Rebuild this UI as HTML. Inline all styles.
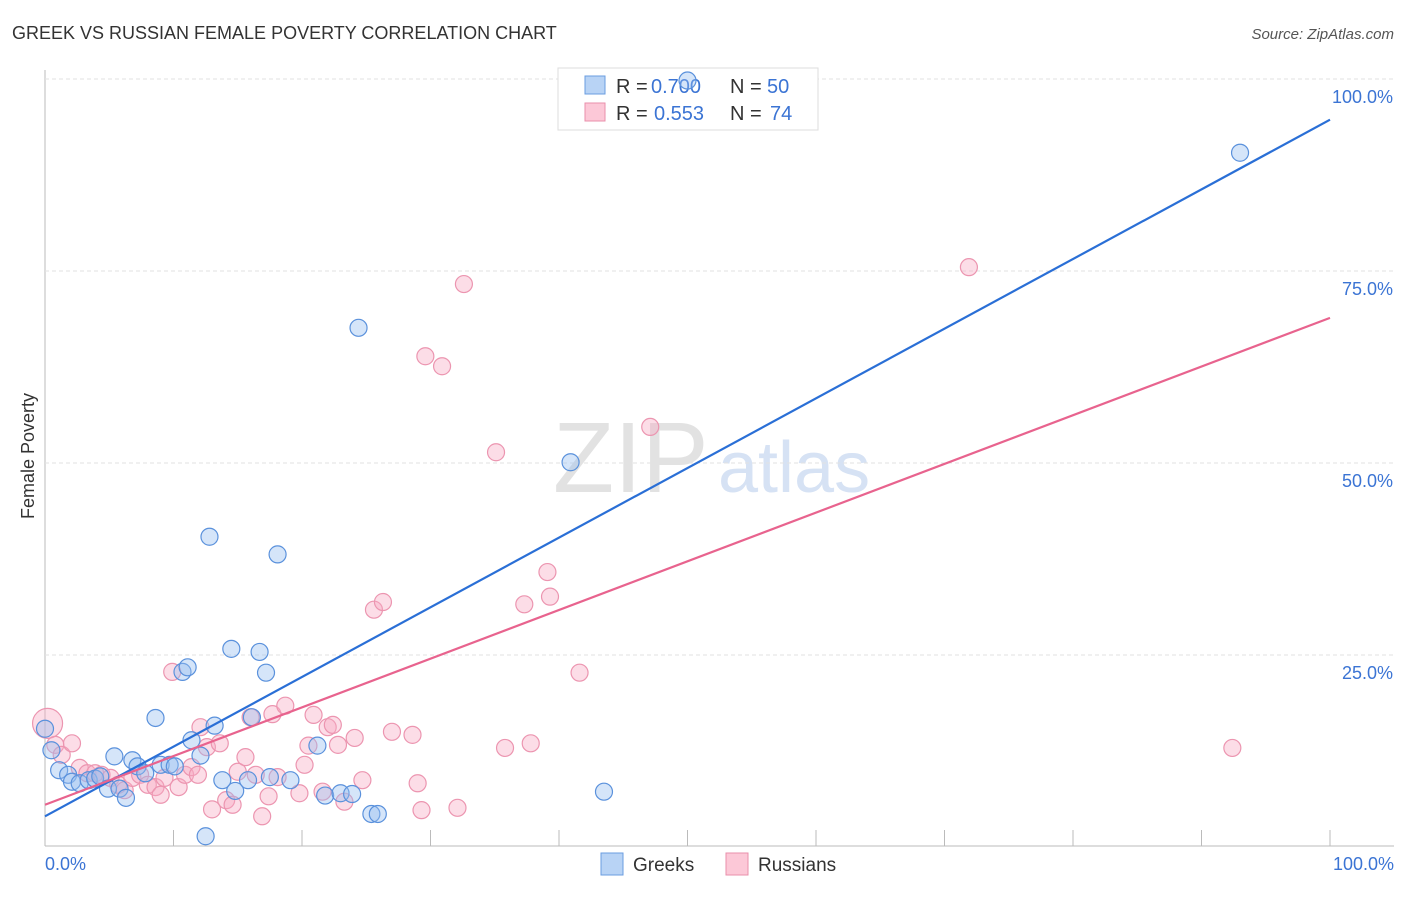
<!DOCTYPE html>
<html><head><meta charset="utf-8"><style>
body{margin:0;background:#fff;font-family:"Liberation Sans",sans-serif;}
svg text{font-family:"Liberation Sans",sans-serif;}
</style></head><body>
<svg id="chart" width="1406" height="892">
<text x="12" y="39" font-size="18" fill="#333">GREEK VS RUSSIAN FEMALE POVERTY CORRELATION CHART</text>
<text x="1394" y="39" font-size="15" fill="#555" font-style="italic" text-anchor="end">Source: ZipAtlas.com</text>
<text transform="translate(34,456) rotate(-90)" font-size="18" fill="#333" text-anchor="middle">Female Poverty</text>
<text x="553" y="492" font-size="100" fill="#e2e2e2" font-family="Liberation Serif">ZIP</text>
<text x="718" y="492" font-size="72" fill="#d6e2f4">atlas</text>
<g id="grid"></g>
<g>
<rect x="558" y="68" width="260" height="62" fill="#fff" stroke="#ddd"/>
<rect x="585" y="76" width="20" height="18" fill="#b8d3f5" stroke="#6a9de0"/>
<rect x="585" y="103" width="20" height="18" fill="#fcc8d7" stroke="#ea8fab"/>
<text y="93" font-size="20" fill="#333"><tspan x="616">R =</tspan><tspan x="651" fill="#3b74d4">0.700</tspan><tspan x="730">N =</tspan><tspan x="767" fill="#3b74d4">50</tspan></text>
<text y="120" font-size="20" fill="#333"><tspan x="616">R =</tspan><tspan x="654" fill="#3b74d4">0.553</tspan><tspan x="730">N =</tspan><tspan x="770" fill="#3b74d4">74</tspan></text>
</g>
<g id="pts"></g><g id="lines"></g>
<g>
<rect x="601" y="853" width="22" height="22" fill="#b8d3f5" stroke="#6a9de0"/>
<text x="633" y="871" font-size="19" fill="#333">Greeks</text>
<rect x="726" y="853" width="22" height="22" fill="#fcc8d7" stroke="#ea8fab"/>
<text x="758" y="871" font-size="19" fill="#333">Russians</text>
</g>
</svg>
<script>
const yTicks=[25,50,75,100];
const xTickLabels=["0.0%","100.0%"];
const greeksX=[0.5,1.1,1.8,2.1,2.7,3.4,3.9,4.3,4.9,5.4,5.8,6.3,6.8,7.2,7.8,8.6,9,9.7,10.1,10.7,11.1,11.4,12.1,12.5,12.8,13.2,13.8,14.5,14.8,15.8,16.1,16.7,17.2,17.5,18.1,19.1,21.2,21.8,23,23.9,24.4,25.4,25.9,40.9,43.5,50.0,93.0,0.0];
const greeksY=[12.6,10,9.4,8.5,8.3,8.7,8.9,9.2,7.6,11.8,7.6,6.4,11.3,10.5,9.6,16.8,10.7,10.7,10.5,22.8,23.4,13.9,11.9,1.4,40.4,15.8,8.7,25.8,7.3,8.7,16.9,25.4,22.7,9.1,38.1,8.7,13.2,6.7,7.0,6.9,67.6,4.3,4.3,50.1,7.2,99.8,90.4,15.4];
const russX=[0.2,0.8,1.3,2.1,2.7,3.3,3.9,4.4,5.1,5.7,6.2,6.8,7.4,8.0,8.6,9.0,9.3,9.9,10.4,10.9,11.4,11.9,12.1,12.6,13.0,13.6,14.1,14.6,15.0,15.6,16.0,16.4,16.9,17.4,17.7,18.1,18.7,19.8,20.2,20.5,20.9,21.6,22.0,22.4,22.8,23.3,24.1,24.7,25.6,26.3,27.0,28.6,29.0,29.3,29.6,30.9,32.1,32.6,35.1,35.8,37.3,37.8,39.1,39.3,41.6,47.1,71.9,92.4];
const russY=[16.1,13.3,12.0,13.5,10.3,9.6,9.6,9.4,9.0,8.1,7.4,9.0,9.4,8.1,7.8,6.8,9.0,22.8,7.8,9.4,10.4,9.4,15.6,13.0,4.9,13.5,6.1,5.5,9.8,11.7,16.9,9.4,4.0,6.6,17.3,9.1,18.4,7.0,10.7,13.2,17.2,7.2,15.6,15.9,13.3,5.9,14.2,8.7,30.9,31.9,15.0,14.6,8.3,4.8,63.9,62.6,5.1,73.3,51.4,12.9,31.6,13.5,35.8,32.6,22.7,54.7,75.5,12.9];
const reg={greeks:[4.0,94.7],russians:[5.5,68.9]};
const NS="http://www.w3.org/2000/svg";
const X=v=>45+v*12.85, Y=v=>847-v*7.68;
function mk(tag,attrs,parent){const e=document.createElementNS(NS,tag);for(const k in attrs)e.setAttribute(k,attrs[k]);parent.appendChild(e);return e;}
const grid=document.getElementById('grid');
mk('line',{x1:45,y1:70,x2:45,y2:846,stroke:'#bbb'},grid);
mk('line',{x1:45,y1:846,x2:1394,y2:846,stroke:'#bbb'},grid);
for(let i=1;i<=10;i++){const l=mk('line',{x1:X(i*10),y1:830,x2:X(i*10),y2:846,stroke:'#bbb'},grid);

}
yTicks.forEach(t=>{const l=mk('line',{x1:45,y1:Y(t),x2:1394,y2:Y(t),stroke:'#e2e2e2','stroke-dasharray':'4,3'},grid);


const tx=mk('text',{x:1393,y:Y(t)+24,'font-size':18,fill:'#3b74d4','text-anchor':'end'},grid);tx.textContent=t.toFixed(1)+'%';

});
const xl0=mk('text',{x:45,y:870,'font-size':18,fill:'#3b74d4'},grid);xl0.textContent=xTickLabels[0];


const xl1=mk('text',{x:1394,y:870,'font-size':18,fill:'#3b74d4','text-anchor':'end'},grid);xl1.textContent=xTickLabels[1];


const pts=document.getElementById('pts');
russX.forEach((x,i)=>{const c=mk('circle',{cx:X(x),cy:Y(russY[i]),r:i==0?15:8.5,fill:'rgba(248,170,195,0.4)',stroke:'#ec95b0','stroke-width':1.2},pts);

});
greeksX.forEach((x,i)=>{const c=mk('circle',{cx:X(x),cy:Y(greeksY[i]),r:8.5,fill:'rgba(150,190,240,0.4)',stroke:'#5a91dc','stroke-width':1.2},pts);

});
const lines=document.getElementById('lines');
const lb=mk('line',{x1:X(0),y1:Y(reg.greeks[0]),x2:X(100),y2:Y(reg.greeks[1]),stroke:'#2a6fd6','stroke-width':2.2},lines);


const lp=mk('line',{x1:X(0),y1:Y(reg.russians[0]),x2:X(100),y2:Y(reg.russians[1]),stroke:'#e8638e','stroke-width':2.2},lines);


</script>
</body></html>
